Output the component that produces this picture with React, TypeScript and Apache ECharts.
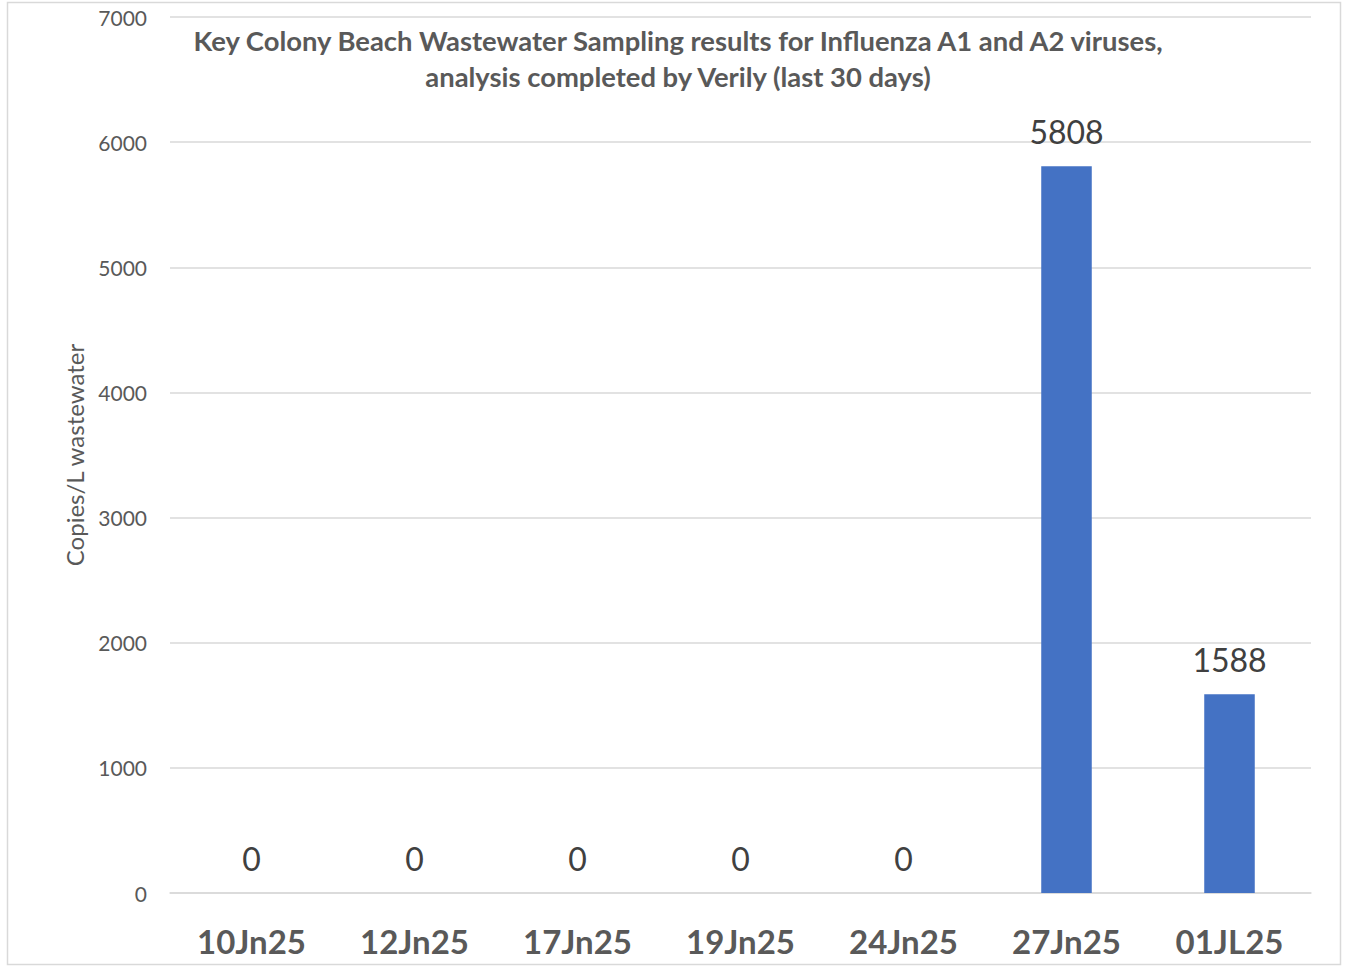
import React, { useEffect, useRef } from "react";
import * as echarts from "echarts";

const categories = ["10Jn25", "12Jn25", "17Jn25", "19Jn25", "24Jn25", "27Jn25", "01JL25"];
const values = [0, 0, 0, 0, 0, 5808, 1588];
const titleLines = [
  "Key Colony Beach Wastewater Sampling results for Influenza A1 and A2 viruses,",
  "analysis completed by Verily (last 30 days)",
];
const yAxisName = "Copies/L wastewater";

const FONT = "Lato, 'Open Sans', sans-serif";

export default function App() {
  const ref = useRef<HTMLDivElement>(null);
  useEffect(() => {
    document.body.style.margin = "0";
    const chart = echarts.init(ref.current!, null, { renderer: "svg" });
    chart.setOption({
      animation: false,
      backgroundColor: "#ffffff",
      title: {
        text: titleLines.join("\n"),
        left: 673,
        top: 17,
        textAlign: "center",
        textStyle: {
          fontFamily: FONT,
          fontSize: 27.4,
          fontWeight: "bold",
          color: "#595959",
          lineHeight: 36,
        },
      },
      graphic: [
        {
          type: "rect",
          shape: { x: 7.5, y: 2.5, width: 1333, height: 962 },
          style: { fill: "none", stroke: "#d9d9d9", lineWidth: 1.5 },
          silent: true,
          z: -1,
        },
      ],
      grid: { left: 170, right: 35, top: 17, bottom: 73 },
      xAxis: {
        type: "category",
        data: categories,
        axisLine: { show: true, lineStyle: { color: "#d9d9d9", width: 1.5 } },
        axisTick: { show: false },
        axisLabel: {
          fontFamily: FONT,
          fontSize: 33,
          fontWeight: "bold",
          color: "#595959",
          margin: 31,
        },
      },
      yAxis: {
        type: "value",
        min: 0,
        max: 7000,
        interval: 1000,
        name: yAxisName,
        nameLocation: "middle",
        nameGap: 84,
        nameTextStyle: { fontFamily: FONT, fontSize: 24, color: "#595959" },
        axisLine: { show: false },
        axisTick: { show: false },
        splitLine: { lineStyle: { color: "#d9d9d9", width: 1.5 } },
        axisLabel: {
          fontFamily: FONT,
          fontSize: 21,
          color: "#595959",
          margin: 23,
          formatter: (v: number) => String(v),
        },
      },
      series: [
        {
          type: "bar",
          data: values,
          barWidth: "31%",
          itemStyle: { color: "#4472c4" },
          label: {
            show: true,
            position: "top",
            distance: 19,
            fontFamily: FONT,
            fontSize: 32,
            color: "#404040",
          },
        },
      ],
    });
    return () => chart.dispose();
  }, []);
  return <div ref={ref} style={{ width: 1346, height: 966 }} />;
}
